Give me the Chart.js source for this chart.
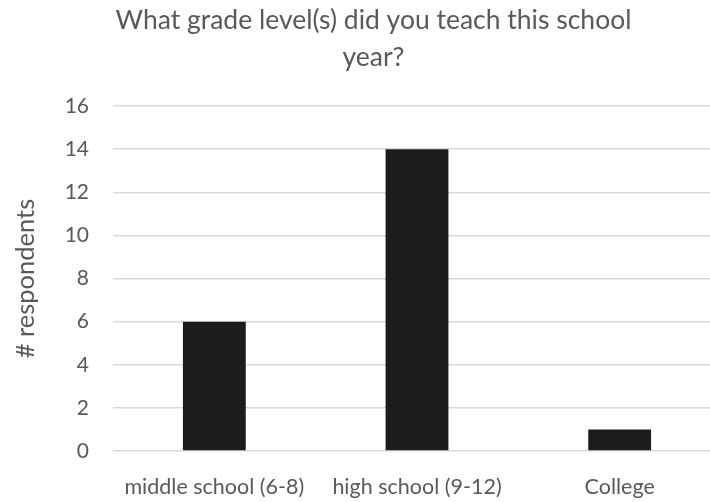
<!DOCTYPE html>
<html>
<head>
<meta charset="utf-8">
<script src="https://cdn.jsdelivr.net/npm/chart.js@4"></script>
<style>
  html, body { margin: 0; padding: 0; background: #ffffff; overflow: hidden; }
  #wrap { width: 721px; height: 502px; }
</style>
</head>
<body>
<div id="wrap"><canvas id="chart" width="721" height="502"></canvas></div>
<script>
// Survey responses: grade levels taught this school year
const categories = ["middle school (6-8)", "high school (9-12)", "College"];
const respondents = [6, 14, 1];
const yTicks = [0, 2, 4, 6, 8, 10, 12, 14, 16];

const textColor = "#595959";
const fontFamily = "Lato, 'Open Sans', sans-serif";

// Nudge the title block a little to the right so it sits over the plot
const titleShift = {
  id: "titleShift",
  afterLayout(chart) {
    const t = chart.titleBlock;
    if (t) { t.left += 13; t.right += 13; }
  }
};

new Chart(document.getElementById("chart"), {
  type: "bar",
  data: {
    labels: categories,
    datasets: [{
      data: respondents,
      backgroundColor: "#1c1c1c",
      borderWidth: 0,
      categoryPercentage: 1.0,
      barPercentage: 0.31
    }]
  },
  plugins: [titleShift],
  options: {
    responsive: false,
    animation: false,
    layout: { padding: 0 },
    plugins: {
      legend: { display: false },
      tooltip: { enabled: false },
      title: {
        display: true,
        text: ["What grade level(s) did you teach this school", "year?"],
        color: textColor,
        font: { family: fontFamily, size: 26.5, weight: "normal", lineHeight: 1.4 },
        padding: { top: 2, bottom: 29.8 }
      }
    },
    scales: {
      x: {
        grid: { display: false },
        border: { display: false },
        afterFit: (axis) => { axis.height = 51; },
        ticks: {
          color: textColor,
          font: { family: fontFamily, size: 21.5 },
          padding: 15,
          maxRotation: 0
        }
      },
      y: {
        min: yTicks[0],
        max: yTicks[yTicks.length - 1],
        afterBuildTicks: (axis) => { axis.ticks = yTicks.map(v => ({ value: v })); },
        afterFit: (axis) => { axis.width = 113; },
        grid: { color: "#d9d9d9", lineWidth: 1.5, drawTicks: false },
        border: { display: false },
        ticks: {
          color: textColor,
          font: { family: fontFamily, size: 21 },
          padding: 24
        },
        title: {
          display: true,
          text: "# respondents",
          color: textColor,
          font: { family: fontFamily, size: 25.5, weight: "normal", lineHeight: 1.2 },
          padding: { top: 10, bottom: 0 }
        }
      }
    }
  }
});
</script>
</body>
</html>
